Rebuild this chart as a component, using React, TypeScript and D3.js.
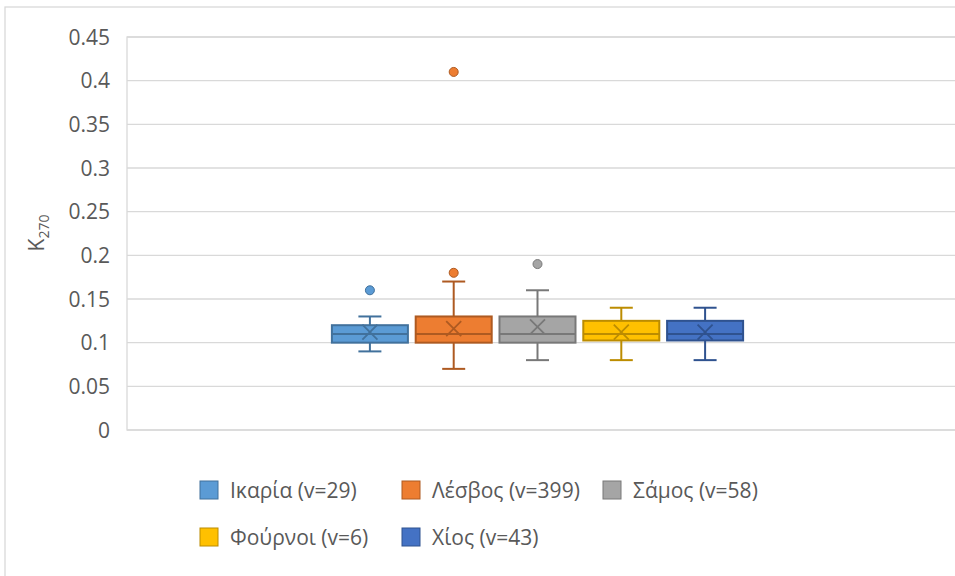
import React from "react";
import * as d3 from "d3";

// Island samples and their box-plot statistics for K270
const islands = ["Ικαρία", "Λέσβος", "Σάμος", "Φούρνοι", "Χίος"];
const sampleCounts = [29, 399, 58, 6, 43];
const whiskerLow = [0.09, 0.07, 0.08, 0.08, 0.08];
const quartile1 = [0.1, 0.1, 0.1, 0.1025, 0.1025];
const medians = [0.11, 0.11, 0.11, 0.11, 0.11];
const quartile3 = [0.12, 0.13, 0.13, 0.125, 0.125];
const whiskerHigh = [0.13, 0.17, 0.16, 0.14, 0.14];
const means = [0.112, 0.116, 0.118, 0.112, 0.112];
const outliers: number[][] = [[0.16], [0.18, 0.41], [0.19], [], []];

const fills = ["#5B9BD5", "#ED7D31", "#A5A5A5", "#FFC000", "#4472C4"];
const strokes = ["#41719C", "#AE5A21", "#787878", "#BC8C00", "#2F528F"];

const yTicks = [0, 0.05, 0.1, 0.15, 0.2, 0.25, 0.3, 0.35, 0.4, 0.45];
const yTickLabels = ["0", "0.05", "0.1", "0.15", "0.2", "0.25", "0.3", "0.35", "0.4", "0.45"];

const W = 955;
const H = 576;
const plot = { left: 127, right: 960, top: 37, bottom: 430 };
const FONT = "'Open Sans', 'Noto Sans', sans-serif";
const TEXT = "#595959";
const GRID = "#D9D9D9";

export default function App() {
  const y = d3.scaleLinear().domain([0, 0.45]).range([plot.bottom, plot.top]);
  const x = d3
    .scaleBand<string>()
    .domain(islands)
    .range([328, 747])
    .paddingInner(0.093)
    .paddingOuter(0.0465);
  const bw = x.bandwidth();
  const capHalf = 11.5;
  const xHalf = 7.5;

  const legendCols = [200, 402, 603];
  const legendRows = [490, 537];

  return (
    <svg
      width={W}
      height={H}
      style={{ position: "absolute", left: 0, top: 0, background: "#fff" }}
      fontFamily={FONT}
    >
      {/* chart frame */}
      <rect x={5} y={7} width={W + 20} height={H + 20} fill="#fff" stroke={GRID} strokeWidth={1.3} />

      {/* gridlines */}
      {yTicks.map((t) => (
        <line
          key={t}
          x1={plot.left}
          x2={plot.right}
          y1={y(t)}
          y2={y(t)}
          stroke={GRID}
          strokeWidth={1.3}
        />
      ))}
      {/* plot area border */}
      <rect
        x={plot.left}
        y={plot.top}
        width={plot.right - plot.left}
        height={plot.bottom - plot.top}
        fill="none"
        stroke={GRID}
        strokeWidth={1.3}
      />

      {/* y tick labels */}
      {yTicks.map((t, i) => (
        <text
          key={t}
          x={110}
          y={y(t)}
          dy="0.36em"
          textAnchor="end"
          fontSize={21}
          fill={TEXT}
        >
          {yTickLabels[i]}
        </text>
      ))}

      {/* y axis title */}
      <text
        transform={`translate(44, ${233}) rotate(-90)`}
        textAnchor="middle"
        fontSize={21}
        fill={TEXT}
      >
        K<tspan fontSize={14} dy={5}>270</tspan>
      </text>

      {/* boxes */}
      {islands.map((name, i) => {
        const x0 = x(name)!;
        const cx = x0 + bw / 2;
        const c = strokes[i];
        const ym = y(means[i]);
        return (
          <g key={name}>
            {/* whiskers */}
            <line x1={cx} x2={cx} y1={y(whiskerHigh[i])} y2={y(quartile3[i])} stroke={c} strokeWidth={2} />
            <line x1={cx} x2={cx} y1={y(quartile1[i])} y2={y(whiskerLow[i])} stroke={c} strokeWidth={2} />
            <line x1={cx - capHalf} x2={cx + capHalf} y1={y(whiskerHigh[i])} y2={y(whiskerHigh[i])} stroke={c} strokeWidth={2} />
            <line x1={cx - capHalf} x2={cx + capHalf} y1={y(whiskerLow[i])} y2={y(whiskerLow[i])} stroke={c} strokeWidth={2} />
            {/* box */}
            <rect
              x={x0}
              y={y(quartile3[i])}
              width={bw}
              height={y(quartile1[i]) - y(quartile3[i])}
              fill={fills[i]}
              stroke={c}
              strokeWidth={2}
            />
            {/* median */}
            <line x1={x0} x2={x0 + bw} y1={y(medians[i])} y2={y(medians[i])} stroke={c} strokeWidth={2} />
            {/* mean marker */}
            <path
              d={`M${cx - xHalf},${ym - xHalf}L${cx + xHalf},${ym + xHalf}M${cx - xHalf},${ym + xHalf}L${cx + xHalf},${ym - xHalf}`}
              stroke={c}
              strokeWidth={1.8}
              fill="none"
            />
            {/* outliers */}
            {outliers[i].map((v) => (
              <circle key={v} cx={cx} cy={y(v)} r={4.5} fill={fills[i]} stroke={c} strokeWidth={1} />
            ))}
          </g>
        );
      })}

      {/* legend */}
      {islands.map((name, i) => {
        const col = i % 3;
        const row = Math.floor(i / 3);
        const lx = legendCols[col];
        const ly = legendRows[row];
        return (
          <g key={name}>
            <rect x={lx} y={ly - 9} width={18} height={18} fill={fills[i]} stroke={strokes[i]} strokeWidth={1} />
            <text x={lx + 30} y={ly} dy="0.36em" fontSize={21} fill={TEXT}>
              {`${name} (v=${sampleCounts[i]})`}
            </text>
          </g>
        );
      })}
    </svg>
  );
}
